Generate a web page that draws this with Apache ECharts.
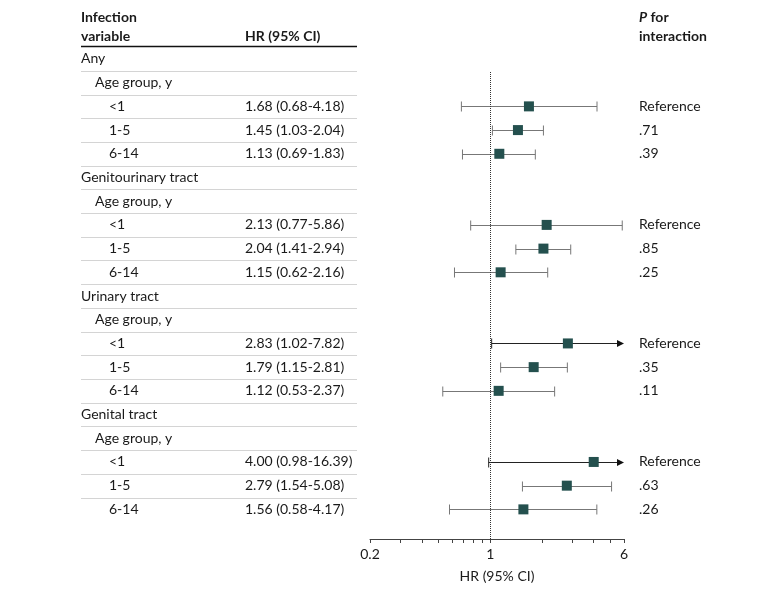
<!DOCTYPE html>
<html>
<head>
<meta charset="utf-8">
<script src="https://cdn.jsdelivr.net/npm/echarts@6/dist/echarts.min.js"></script>
<style>
  html, body { margin: 0; background: #fff; }
  #chart { width: 780px; height: 605px; }
</style>
</head>
<body>
<div id="chart"></div>
<script>
// table rows, top to bottom
const rowLabels = [
  'Any', 'Age group, y', '<1', '1-5', '6-14',
  'Genitourinary tract', 'Age group, y', '<1', '1-5', '6-14',
  'Urinary tract', 'Age group, y', '<1', '1-5', '6-14',
  'Genital tract', 'Age group, y', '<1', '1-5', '6-14',
];
const rowLevels = [0, 1, 2, 2, 2, 0, 1, 2, 2, 2, 0, 1, 2, 2, 2, 0, 1, 2, 2, 2];
const pLabels = [
  '', '', 'Reference', '.71', '.39',
  '', '', 'Reference', '.85', '.25',
  '', '', 'Reference', '.35', '.11',
  '', '', 'Reference', '.63', '.26',
];

// estimates (row index into the table)
const estRows = [2, 3, 4, 7, 8, 9, 12, 13, 14, 17, 18, 19];
const hr     = [1.68, 1.45, 1.13, 2.13, 2.04, 1.15, 2.83, 1.79, 1.12, 4.00, 2.79, 1.56];
const ciLow  = [0.68, 1.03, 0.69, 0.77, 1.41, 0.62, 1.02, 1.15, 0.53, 0.98, 1.54, 0.58];
const ciHigh = [4.18, 2.04, 1.83, 5.86, 2.94, 2.16, 7.82, 2.81, 2.37, 16.39, 5.08, 4.17];

// axis
const X_MIN = 0.2, X_MAX = 6;
const xTickValues = [0.2, 0.3, 0.4, 0.5, 0.6, 0.7, 0.8, 0.9, 1, 2, 3, 4, 5, 6];
const xLabelValues = [0.2, 1, 6];

const FONT = 'Lato';
const INK = '#1a1a1a';
const MARK = '#24504e';

const hrText = rowLabels.map(() => '');
estRows.forEach((r, i) => {
  hrText[r] = `${hr[i].toFixed(2)} (${ciLow[i].toFixed(2)}-${ciHigh[i].toFixed(2)})`;
});

const chart = echarts.init(document.getElementById('chart'));
chart.setOption({
  animation: false,
  grid: { left: 370, right: 156, top: 72, bottom: 66 },
  xAxis: {
    type: 'log', logBase: 10, min: X_MIN, max: X_MAX,
    axisLine: { lineStyle: { color: '#444', width: 1 } },
    axisTick: { customValues: xTickValues, length: 4, lineStyle: { color: '#444' } },
    axisLabel: {
      customValues: xLabelValues, formatter: v => String(v),
      color: INK, fontSize: 14, fontFamily: FONT, margin: 8,
    },
    splitLine: { show: false },
    minorTick: { show: false },
    name: 'HR (95% CI)', nameLocation: 'middle', nameGap: 30,
    nameTextStyle: { color: INK, fontSize: 14, fontFamily: FONT },
  },
  yAxis: { type: 'value', inverse: true, min: 0.55, max: 20.25, show: false },
  graphic: [
    { type: 'text', left: 81, top: 10, style: { text: 'Infection', fill: INK, font: `bold 14px ${FONT}` } },
    { type: 'text', left: 81, top: 29, style: { text: 'variable', fill: INK, font: `bold 14px ${FONT}` } },
    { type: 'text', left: 245, top: 29, style: { text: 'HR (95% CI)', fill: INK, font: `bold 14px ${FONT}` } },
    { type: 'text', left: 639, top: 10, style: {
        text: '{i|P} for', fill: INK, font: `bold 14px ${FONT}`,
        rich: { i: { fontStyle: 'italic', fontWeight: 'bold', fontSize: 14, fontFamily: FONT, fill: INK } },
    } },
    { type: 'text', left: 639, top: 29, style: { text: 'interaction', fill: INK, font: `bold 14px ${FONT}` } },
    { type: 'line', shape: { x1: 81, y1: 46.5, x2: 357, y2: 46.5 }, style: { stroke: '#111', lineWidth: 1.5 } },
  ],
  series: [
    {
      // table text + row separators
      type: 'custom', clip: false, silent: true,
      data: rowLabels.map((_, i) => [1, i]),
      encode: { x: 0, y: 1 },
      renderItem(params, api) {
        const i = api.value(1);
        const y = api.coord([1, i])[1];
        const kids = [
          { type: 'text', style: {
              text: rowLabels[i], x: 81 + rowLevels[i] * 14, y,
              fill: INK, fontSize: 14, fontFamily: FONT, verticalAlign: 'middle' } },
          { type: 'text', style: {
              text: hrText[i], x: 245, y,
              fill: INK, fontSize: 14, fontFamily: FONT, verticalAlign: 'middle' } },
          { type: 'text', style: {
              text: pLabels[i], x: 639, y,
              fill: INK, fontSize: 14, fontFamily: FONT, verticalAlign: 'middle' } },
        ];
        if (i < rowLabels.length - 1) {
          const ys = Math.round(api.coord([1, i + 0.5])[1]) + 0.5;
          kids.push({ type: 'line', shape: { x1: 81, y1: ys, x2: 357, y2: ys },
                      style: { stroke: '#d4d4d4', lineWidth: 1 } });
        }
        return { type: 'group', children: kids };
      },
    },
    {
      // confidence intervals
      type: 'custom', clip: false, silent: true,
      data: estRows.map((r, i) => [r, ciLow[i], ciHigh[i]]),
      encode: { x: [1, 2], y: 0 },
      renderItem(params, api) {
        const row = api.value(0), lo = api.value(1), hi = api.value(2);
        const over = hi > X_MAX;
        const p0 = api.coord([lo, row]);
        const p1 = api.coord([over ? X_MAX : hi, row]);
        const y = Math.round(p0[1]) + 0.5;
        const col = over ? '#222' : '#777';
        const kids = [
          { type: 'line', shape: { x1: p0[0], y1: y, x2: over ? p1[0] - 6 : p1[0], y2: y },
            style: { stroke: col, lineWidth: 1 } },
          { type: 'line', shape: { x1: p0[0], y1: y - 5, x2: p0[0], y2: y + 5 },
            style: { stroke: col, lineWidth: 1 } },
        ];
        if (over) {
          kids.push({ type: 'polygon',
            shape: { points: [[p1[0] - 7, y - 3.5], [p1[0], y], [p1[0] - 7, y + 3.5]] },
            style: { fill: '#111' } });
        } else {
          kids.push({ type: 'line', shape: { x1: p1[0], y1: y - 5, x2: p1[0], y2: y + 5 },
            style: { stroke: col, lineWidth: 1 } });
        }
        return { type: 'group', children: kids };
      },
    },
    {
      // point estimates
      type: 'scatter', silent: true,
      symbol: 'rect', symbolSize: 10,
      itemStyle: { color: MARK, opacity: 1 },
      data: estRows.map((r, i) => [hr[i], r]),
      z: 5,
      markLine: {
        silent: true, symbol: 'none', label: { show: false },
        lineStyle: { color: '#333', type: 'dotted', width: 1 },
        data: [{ xAxis: 1 }],
      },
    },
  ],
});
</script>
</body>
</html>
